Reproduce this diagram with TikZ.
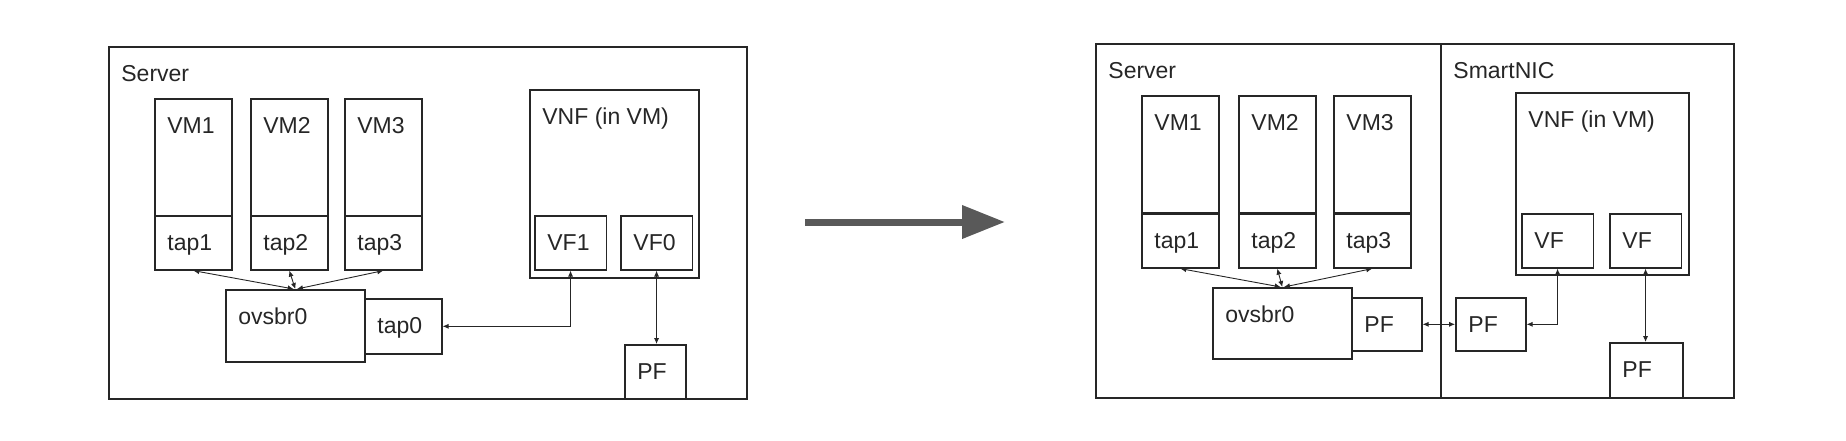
\documentclass[tikz,border=0pt]{standalone}
\usepackage{fontspec}
\setmainfont{Liberation Sans}
\usetikzlibrary{arrows.meta}
\definecolor{ink}{HTML}{262626}
\definecolor{arrowgray}{HTML}{595959}
\tikzset{
  box/.style = {draw=ink, line width=0.8pt, inner sep=0pt, anchor=north west},
  vmbox/.style = {box, minimum width=38.5pt, minimum height=58.5pt},
  tapbox/.style = {box, minimum width=38.5pt, minimum height=27pt},
  vfbox/.style = {box, minimum width=35.75pt, minimum height=27pt},
  tag/.style = {anchor=base west, inner sep=0pt, xshift=6.5pt, yshift=-17.5pt,
                text=ink, font=\fontsize{11.5}{13}\selectfont},
  link/.style = {{Latex[length=3pt,width=2.6pt]}-{Latex[length=3pt,width=2.6pt]},
                 line width=0.45pt, draw=ink},
  bigarrow/.style = {-{Triangle[length=21.5pt,width=16pt]}, line width=3.5pt, draw=arrowgray}
}

\begin{document}
\begin{tikzpicture}[x=0.5pt, y=-0.5pt]
   \useasboundingbox (0,0) rectangle (1846,440);

   % before
   \node[box, minimum width=319pt, minimum height=176pt] (srvA) at (108,46) {};
   \node[tag] (srvAt) at (srvA.north west) {Server};
   \node[vmbox] (vmA1) at (154,98) {};
   \node[tapbox] (tapA1) at (154,215) {};
   \node[vmbox] (vmA2) at (250,98) {};
   \node[tapbox] (tapA2) at (250,215) {};
   \node[vmbox] (vmA3) at (344,98) {};
   \node[tapbox] (tapA3) at (344,215) {};
   \node[tag] at (vmA1.north west) {VM1};
   \node[tag] at (vmA2.north west) {VM2};
   \node[tag] at (vmA3.north west) {VM3};
   \node[tag] at (tapA1.north west) {tap1};
   \node[tag] at (tapA2.north west) {tap2};
   \node[tag] at (tapA3.north west) {tap3};
   \node[box, minimum width=84.5pt, minimum height=94pt] (vnfA) at (529,89) {};
   \node[tag] at (vnfA.north west) {VNF (in VM)};
   \node[vfbox] (vfA1) at (534,215) {};
   \node[vfbox] (vfA0) at (620,215) {};
   \node[tag] at (vfA1.north west) {VF1};
   \node[tag] at (vfA0.north west) {VF0};
   \node[box, minimum width=69.5pt, minimum height=36pt] (ovsA) at (225,289) {};
   \node[tag] at (ovsA.north west) {ovsbr0};
   \node[box, minimum width=38.5pt, minimum height=27.5pt] (tapA0) at (364,298) {};
   \node[tag] at (tapA0.north west) {tap0};
   \node[box, minimum width=30.5pt, minimum height=27pt] (pfA) at (624,344) {};
   \node[tag] at (pfA.north west) {PF};
   \draw[link] (tapA1.south) -- ([xshift=-0.8pt]ovsA.north);
   \draw[link] (tapA2.south) -- (ovsA.north);
   \draw[link] (tapA3.south) -- ([xshift=0.8pt]ovsA.north);
   \draw[link] (vfA1.south) |- (tapA0.east);
   \draw[link] (vfA0.south) -- (vfA0.south |- pfA.north);

   \coordinate (fromA) at (805,222);
   \coordinate (toB) at (1005,222);
   \draw[bigarrow] (fromA) -- (toB);

   % after
   \node[box, minimum width=172.5pt, minimum height=177pt] (srvB) at (1095,43) {};
   \node[tag] at (srvB.north west) {Server};
   \node[box, minimum width=146.5pt, minimum height=177pt] (nicB) at (1440,43) {};
   \node[tag] at (nicB.north west) {SmartNIC};
   \node[vmbox] (vmB1) at (1141,95) {};
   \node[tapbox] (tapB1) at (1141,213) {};
   \node[vmbox] (vmB2) at (1238,95) {};
   \node[tapbox] (tapB2) at (1238,213) {};
   \node[vmbox] (vmB3) at (1333,95) {};
   \node[tapbox] (tapB3) at (1333,213) {};
   \node[tag] at (vmB1.north west) {VM1};
   \node[tag] at (vmB2.north west) {VM2};
   \node[tag] at (vmB3.north west) {VM3};
   \node[tag] at (tapB1.north west) {tap1};
   \node[tag] at (tapB2.north west) {tap2};
   \node[tag] at (tapB3.north west) {tap3};
   \node[box, minimum width=69.5pt, minimum height=35.5pt] (ovsB) at (1212,287) {};
   \node[tag] at (ovsB.north west) {ovsbr0};
   \node[box, minimum width=35pt, minimum height=26.5pt] (pfB1) at (1351,297) {};
   \node[tag] at (pfB1.north west) {PF};
   \node[box, minimum width=35pt, minimum height=26.5pt] (pfB2) at (1455,297) {};
   \node[tag] at (pfB2.north west) {PF};
   \node[box, minimum width=86.5pt, minimum height=91pt] (vnfB) at (1515,92) {};
   \node[tag] at (vnfB.north west) {VNF (in VM)};
   \node[vfbox] (vfB1) at (1521,213) {};
   \node[vfbox] (vfB2) at (1609,213) {};
   \node[tag] at (vfB1.north west) {VF};
   \node[tag] at (vfB2.north west) {VF};
   \node[box, minimum width=36.5pt, minimum height=27.5pt] (pfB3) at (1609,342) {};
   \node[tag] at (pfB3.north west) {PF};
   \draw[link] (tapB1.south) -- ([xshift=-0.8pt]ovsB.north);
   \draw[link] (tapB2.south) -- (ovsB.north);
   \draw[link] (tapB3.south) -- ([xshift=0.8pt]ovsB.north);
   \draw[link] (pfB1.east) -- (pfB2.west);
   \draw[link] (vfB1.south) |- (pfB2.east);
   \draw[link] (vfB2.south) -- (vfB2.south |- pfB3.north);
\end{tikzpicture}
\end{document}
